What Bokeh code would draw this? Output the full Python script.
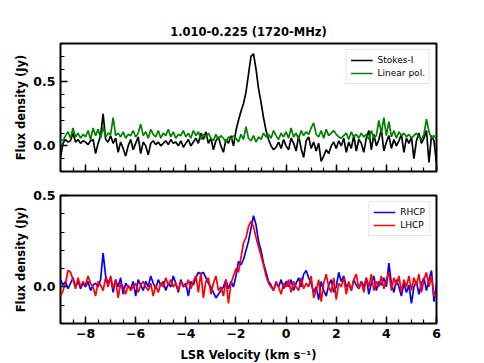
import numpy as np
from bokeh.plotting import figure
from bokeh.layouts import column
from bokeh.models import FixedTicker, Range1d, PrintfTickFormatter
from bokeh.embed import file_html
from bokeh.resources import INLINE

# channel grid (km/s)
v_start = -9.0
v_step = 0.1

stokes_i = [
    -0.09, 0.02, 0.05, 0.03, 0.04, 0.10, 0.03, 0.05, 0.02, 0.04,
    0.03, 0.01, 0.04, 0.05, -0.06, 0.02, 0.08, 0.25, 0.05, 0.03,
    0.08, 0.02, 0.06, -0.05, 0.03, -0.02, -0.08, 0.00, 0.05, -0.03,
    0.02, 0.07, -0.06, 0.03, 0.00, -0.07, 0.02, 0.04, 0.01, 0.03,
    0.00, 0.02, 0.04, 0.01, 0.05, 0.02, 0.03, 0.00, 0.04, -0.01,
    0.02, 0.05, 0.00, 0.03, 0.06, 0.02, 0.10, 0.05, 0.11, 0.02,
    0.06, -0.03, 0.04, 0.07, 0.00, -0.05, 0.05, 0.02, 0.08, 0.00,
    0.12, 0.20, 0.27, 0.33, 0.42, 0.56, 0.70, 0.72, 0.60, 0.45,
    0.34, 0.22, 0.12, 0.05, 0.00, -0.03, -0.01, 0.03, -0.02, 0.05,
    0.00, -0.03, 0.06, 0.02, -0.04, 0.08, -0.02, -0.09, 0.04, 0.07,
    -0.02, 0.03, -0.04, 0.02, -0.12, -0.08, -0.03, -0.06, 0.00, 0.03,
    -0.02, 0.04, 0.00, 0.06, -0.05, 0.03, -0.02, 0.08, -0.04, 0.05,
    0.02, -0.05, 0.06, 0.12, -0.03, 0.09, 0.00, 0.05, 0.13, -0.04,
    0.03, 0.08, -0.02, 0.05, 0.00, 0.04, 0.09, -0.05, 0.06, 0.02,
    0.07, -0.10, 0.04, 0.10, 0.02, 0.06, 0.12, -0.13, 0.08, 0.04,
    -0.14,
]

linear_pol = [
    0.05, 0.04, 0.08, 0.11, 0.06, 0.14, 0.07, 0.10, 0.06, 0.09,
    0.07, 0.12, 0.05, 0.14, 0.08, 0.13, 0.06, 0.15, 0.07, 0.10,
    0.09, 0.22, 0.08, 0.10, 0.07, 0.11, 0.06, 0.09, 0.08, 0.12,
    0.07, 0.10, 0.17, 0.08, 0.11, 0.06, 0.13, 0.09, 0.07, 0.12,
    0.06, 0.10, 0.08, 0.13, 0.07, 0.11, 0.06, 0.09, 0.08, 0.12,
    0.07, 0.10, 0.06, 0.12, 0.08, 0.11, 0.05, 0.09, 0.07, 0.10,
    0.06, 0.04, 0.09, 0.05, 0.08, 0.06, 0.03, 0.07, 0.05, 0.08,
    0.06, 0.03, 0.09, 0.05, 0.15, 0.06, 0.04, 0.08, 0.03, 0.07,
    0.05, 0.10, 0.07, 0.09, 0.06, 0.12, 0.08, 0.05, 0.10, 0.07,
    0.11, 0.06, 0.14, 0.07, 0.10, 0.05, 0.12, 0.08, 0.11, 0.09,
    0.14, 0.18, 0.09, 0.07, 0.12, 0.06, 0.13, 0.08, 0.10, 0.12,
    0.09, 0.07, 0.06, 0.08, 0.10, 0.05, 0.11, 0.07, 0.09, 0.06,
    0.10, 0.07, 0.09, 0.05, 0.12, 0.06, 0.08, 0.20, 0.10, 0.22,
    0.08, 0.19, 0.07, 0.12, 0.06, 0.11, 0.08, 0.10, 0.07, 0.09,
    0.06, 0.08, 0.10, 0.07, 0.05, 0.09, 0.21, 0.11, 0.06, 0.08,
    0.05,
]

rhcp = [
    0.04, 0.01, 0.03, -0.01, 0.02, 0.05, 0.00, 0.03, -0.01, 0.02,
    0.00, 0.03, -0.02, 0.01, 0.02, 0.00, 0.04, 0.185, 0.06, 0.02,
    0.05, -0.03, 0.04, 0.00, 0.05, -0.04, 0.02, 0.00, -0.01, 0.03,
    -0.05, 0.04, 0.01, -0.02, 0.03, 0.00, 0.06, 0.02, -0.01, 0.04,
    0.01, 0.03, -0.02, 0.02, 0.00, 0.06, 0.02, -0.03, 0.04, 0.00,
    0.02, -0.05, 0.03, 0.01, 0.05, 0.08, 0.07, 0.08, 0.05, 0.02,
    0.00, -0.03, -0.06, -0.04, -0.02, 0.00, 0.04, -0.01, 0.03, 0.00,
    0.06, 0.14, 0.12, 0.15, 0.20, 0.25, 0.32, 0.39, 0.34, 0.25,
    0.20, 0.13, 0.08, 0.03, 0.01, -0.02, 0.02, 0.00, 0.04, -0.01,
    0.03, 0.00, 0.04, -0.02, 0.02, 0.05, 0.00, 0.07, 0.09, 0.05,
    0.02, -0.03, 0.00, -0.07, 0.03, -0.02, -0.05, 0.01, 0.04, -0.03,
    0.00, 0.08, 0.03, 0.06, 0.00, 0.02, -0.02, 0.04, 0.01, -0.01,
    0.03, 0.00, 0.05, -0.04, 0.02, 0.06, -0.02, 0.03, 0.01, 0.05,
    0.00, 0.13, 0.02, -0.03, 0.04, 0.00, -0.05, 0.02, -0.03, 0.01,
    -0.09, 0.00, 0.03, -0.04, 0.02, 0.05, -0.02, 0.04, 0.09, -0.08,
    0.02,
]

lhcp = [
    -0.05, -0.02, 0.02, 0.09, 0.08, 0.04, -0.01, 0.05, 0.00, 0.03,
    0.01, 0.06, 0.02, 0.00, -0.05, 0.03, 0.01, -0.02, 0.05, 0.00,
    0.06, -0.01, 0.04, -0.06, 0.02, 0.00, -0.04, 0.01, -0.02, 0.00,
    0.02, -0.03, 0.01, 0.03, 0.00, -0.02, 0.02, -0.05, 0.01, -0.03,
    0.02, 0.00, 0.05, 0.01, 0.04, 0.00, 0.02, -0.02, 0.03, 0.01,
    0.00, 0.04, -0.01, 0.03, 0.06, -0.03, 0.08, -0.06, 0.03, 0.05,
    -0.04, 0.02, 0.06, -0.02, 0.00, -0.05, 0.04, -0.09, 0.02, 0.06,
    0.10, 0.08, 0.16, 0.24, 0.27, 0.33, 0.36, 0.33, 0.27, 0.22,
    0.17, 0.12, 0.06, 0.02, 0.00, -0.02, 0.03, 0.00, -0.04, 0.02,
    0.00, 0.04, -0.03, 0.03, 0.00, -0.02, 0.05, -0.01, 0.02, 0.00,
    0.06, -0.06, -0.02, 0.04, -0.08, 0.02, 0.07, 0.00, -0.03, 0.05,
    -0.07, 0.02, 0.00, 0.05, -0.04, 0.03, -0.02, 0.04, 0.07, -0.01,
    0.03, -0.03, 0.05, 0.00, 0.07, -0.02, 0.03, 0.00, 0.06, -0.01,
    0.04, 0.08, -0.02, 0.05, 0.01, 0.06, -0.03, 0.04, 0.00, 0.06,
    -0.02, 0.05, 0.01, 0.07, -0.03, 0.04, 0.08, 0.00, 0.06, -0.05,
    -0.04,
]

x_ticks = [-8, -6, -4, -2, 0, 2, 4, 6]
y_ticks = [0.0, 0.5]

vel = np.round(v_start + v_step * np.arange(len(stokes_i)), 2)

FONT = "DejaVu Sans"


def style(p, y_lo, y_hi, show_x_labels):
    p.outline_line_color = "black"
    p.outline_line_width = 2
    p.xgrid.visible = False
    p.ygrid.visible = False
    p.xaxis.ticker = FixedTicker(ticks=x_ticks,
                                 minor_ticks=list(np.arange(-9, 6.01, 0.5)))
    p.yaxis.ticker = FixedTicker(ticks=y_ticks,
                                 minor_ticks=list(np.round(np.arange(y_lo, y_hi + 0.001, 0.1), 2)))
    p.yaxis.formatter = PrintfTickFormatter(format="%.1f")
    for ax in (p.xaxis[0], p.yaxis[0]):
        ax.axis_line_color = None
        ax.major_tick_in = 7
        ax.major_tick_out = 0
        ax.minor_tick_in = 4
        ax.minor_tick_out = 0
        ax.major_tick_line_width = 1.5
        ax.minor_tick_line_width = 1.2
        ax.major_label_text_font = FONT
        ax.major_label_text_font_style = "bold"
        ax.major_label_text_font_size = "12.5px"
        ax.major_label_text_color = "black"
        ax.axis_label_text_font = FONT
        ax.axis_label_text_font_style = "bold"
        ax.axis_label_text_font_size = "11.5px"
        ax.axis_label_text_color = "black"
    p.yaxis.axis_label = "Flux density (Jy)"
    p.yaxis.major_label_standoff = 5
    p.yaxis.axis_label_standoff = 2
    if show_x_labels:
        p.xaxis.major_label_overrides = {t: str(t).replace("-", "\u2212") for t in x_ticks}
    else:
        p.xaxis.major_label_overrides = {t: "" for t in x_ticks}
        p.xaxis.major_label_standoff = 0


p1 = figure(frame_width=376, frame_height=128,
            x_range=Range1d(-9, 6), y_range=Range1d(-0.2, 0.8),
            output_backend="svg", toolbar_location=None,
            min_border_left=60, min_border_right=40,
            min_border_top=43, min_border_bottom=12,
            title="1.010-0.225 (1720-MHz)")
p1.title.align = "center"
p1.title.text_font = FONT
p1.title.text_font_style = "bold"
p1.title.text_font_size = "11.5px"
p1.title.text_color = "black"
style(p1, -0.2, 0.8, False)
p1.line(vel, stokes_i, color="black", line_width=1.7, legend_label="Stokes-I")
p1.line(vel, linear_pol, color="green", line_width=1.7, legend_label="Linear pol.")

p2 = figure(frame_width=376, frame_height=128,
            x_range=Range1d(-9, 6), y_range=Range1d(-0.2, 0.5),
            output_backend="svg", toolbar_location=None,
            min_border_left=60, min_border_right=40,
            min_border_top=12, min_border_bottom=30)
style(p2, -0.2, 0.5, True)
p2.xaxis.axis_label = "LSR Velocity (km s\u207b\u00b9)"
p2.xaxis.axis_label_standoff = 7
p2.line(vel, rhcp, color="blue", line_width=1.7, legend_label="RHCP")
p2.line(vel, lhcp, color="red", line_width=1.7, legend_label="LHCP")

for p in (p1, p2):
    lg = p.legend[0]
    lg.location = "top_right"
    lg.label_text_font = FONT
    lg.label_text_font_size = "9px"
    lg.label_text_color = "black"
    lg.label_height = 12
    lg.glyph_height = 12
    lg.glyph_width = 22
    lg.spacing = 1
    lg.padding = 4
    lg.margin = 6
    lg.border_line_color = "#cccccc"
    lg.border_line_width = 1
    lg.background_fill_alpha = 0.8

layout = column(p1, p2)
open("out.html", "w").write(file_html(layout, INLINE))
